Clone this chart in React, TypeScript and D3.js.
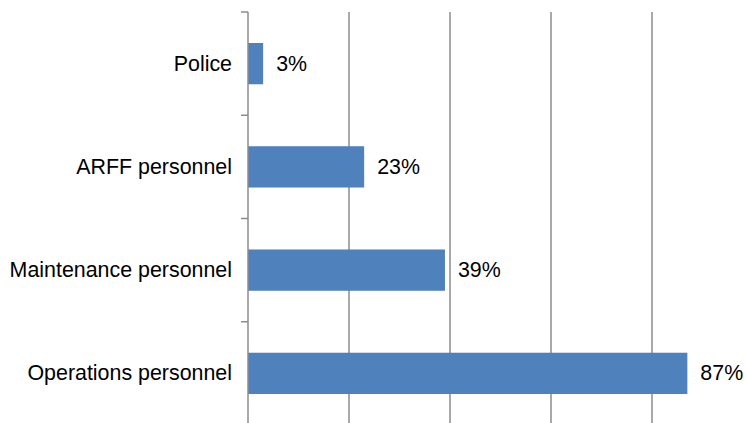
import React from "react";
import * as d3 from "d3";

const categories = ["Police", "ARFF personnel", "Maintenance personnel", "Operations personnel"];
const values = [3, 23, 39, 87];
const gridTicks = [0, 20, 40, 60, 80, 100];

export default function App() {
  const W = 747, H = 423;
  const x = d3.scaleLinear().domain([0, 100]).range([248, 753]);
  const y = d3.scaleBand().domain(categories).range([12, 425]).paddingInner(0.6).paddingOuter(0.3);
  const yb = d3.scaleBand().domain(categories).range([12, 425]);
  const font = "'Liberation Sans', Arial, Helvetica, sans-serif";
  return (
    <svg width={W} height={H} style={{ position: "absolute", left: 0, top: 0, background: "#fff" }}>
      {gridTicks.slice(1).map((t) => (
        <line key={t} x1={x(t)} x2={x(t)} y1={12} y2={425} stroke="#8c8c8c" strokeWidth={1.5} />
      ))}
      {categories.map((c, i) => (
        <rect key={c} x={x(0)} y={y(c)!} width={x(values[i]) - x(0)} height={y.bandwidth()} fill="#4F81BD" />
      ))}
      <line x1={x(0)} x2={x(0)} y1={12} y2={425} stroke="#8c8c8c" strokeWidth={1.5} />
      {categories.map((c) => (
        <line key={"t" + c} x1={241} x2={x(0)} y1={yb(c)!} y2={yb(c)!} stroke="#8c8c8c" strokeWidth={1.5} />
      ))}
      <line x1={241} x2={x(0)} y1={425} y2={425} stroke="#8c8c8c" strokeWidth={1.5} />
      {categories.map((c, i) => (
        <text key={"l" + c} x={232} y={y(c)! + y.bandwidth() / 2} textAnchor="end" dominantBaseline="central"
          fontFamily={font} fontSize={21.4} fill="#000">{c}</text>
      ))}
      {categories.map((c, i) => (
        <text key={"v" + c} x={x(values[i]) + 13} y={y(c)! + y.bandwidth() / 2} dominantBaseline="central"
          fontFamily={font} fontSize={21.4} fill="#000">{values[i]}%</text>
      ))}
    </svg>
  );
}
